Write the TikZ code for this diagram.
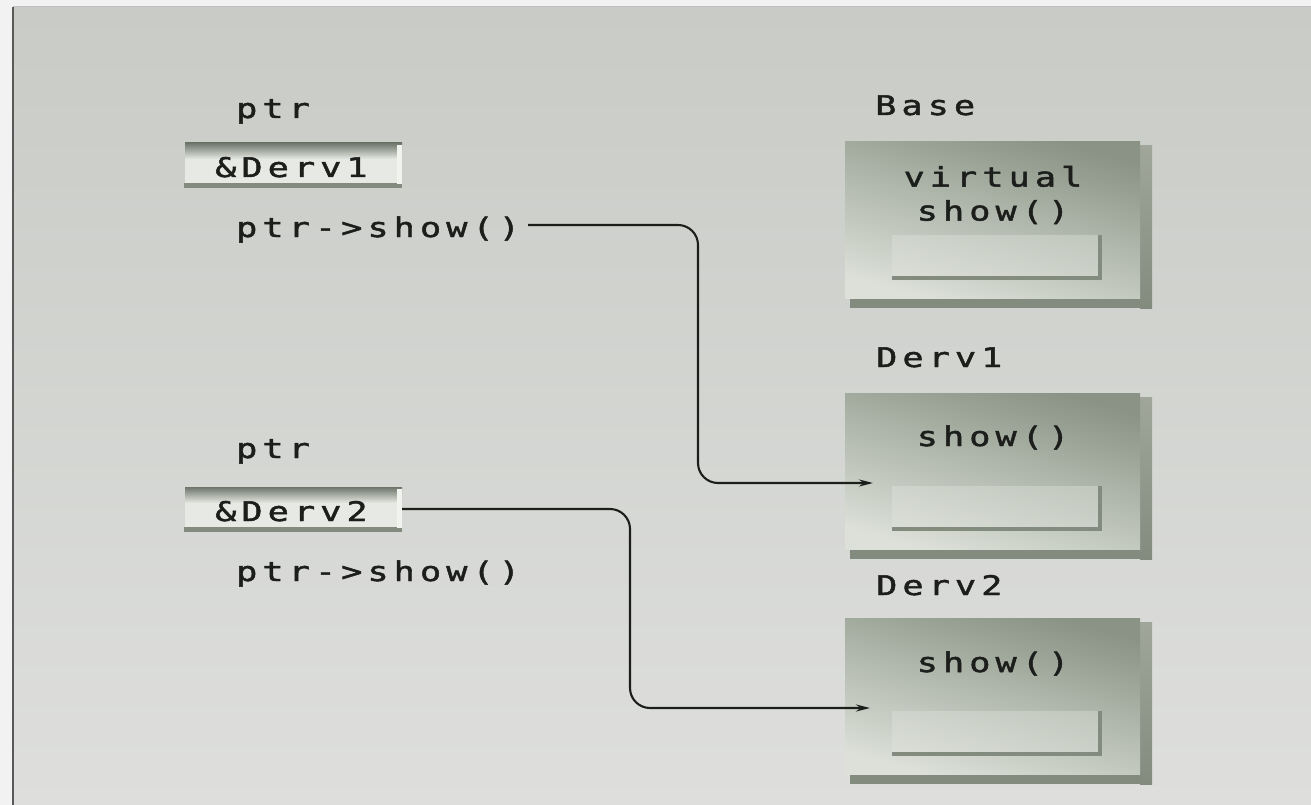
\documentclass[tikz,border=0pt]{standalone}
\usepackage{fontspec}
\usetikzlibrary{arrows.meta}
\newfontfamily\codefont[FakeStretch=1.3,LetterSpace=19,FakeBold=1.8]{DejaVu Sans Mono}

\definecolor{paper}{HTML}{F1F2F1}
\definecolor{bgtop}{HTML}{C8CBC6}
\definecolor{bgbot}{HTML}{DEDFDD}
\definecolor{ink}{HTML}{1C1E1C}
\definecolor{facedark}{HTML}{8A9385}
\definecolor{facelight}{HTML}{DCE0D8}
\definecolor{edgedark}{HTML}{838B7F}
\definecolor{sidegray}{HTML}{A0A79A}
\definecolor{panel}{HTML}{E1E4DD}

\tikzset{
  code/.style={font=\codefont\fontsize{27}{34}\selectfont, text=ink, inner sep=0pt},
  label/.style={code, anchor=base west},
  wire/.style={draw=ink, line width=2.1pt, rounded corners=20pt,
               -{Stealth[length=14pt,width=7pt]}},
}

% a class box: raised face with a darker side strip and an inner panel
\newcommand{\classbox}[3]{% name, top-left x, top y
  \begin{scope}[shift={(#2,#3)}]
    \fill[edgedark] (5,10) rectangle (307,166);
    \shade[top color=sidegray, bottom color=edgedark] (295,4) rectangle (307,166);
    \shade[top color=facedark, bottom color=facelight, shading angle=-15]
      (0,0) rectangle (295,156);
    \fill[panel, opacity=0.4] (47,93) rectangle (253,134);
    \fill[edgedark] (47,134) rectangle (257,138);
    \fill[edgedark] (253,93) rectangle (257,138);
    \coordinate (#1) at (0,0);
  \end{scope}
}

\begin{document}
\begin{tikzpicture}[x=1pt,y=-1pt]
  \useasboundingbox (0,0) rectangle (1311,805);
  % page and tinted frame
  \fill[paper] (0,0) rectangle (1311,805);
  \shade[top color=bgtop, bottom color=bgbot] (13,7) rectangle (1311,805);
  \draw[black!65, line width=2pt] (13,805) -- (13,7);
  \draw[black!25, line width=1pt] (13,7) -- (1311,7);

  % pointer cells
  \foreach \y/\nm in {143/cellA, 487/cellB}{
    \fill[facelight!70!white] (185,\y) rectangle (402,\y+44);
    \shade[top color=facedark!80!black, bottom color=facelight!70!white]
      (185,\y) rectangle (402,\y+16);
    \fill[edgedark] (184,\y+40) rectangle (402,\y+45);
    \fill[white!60!facelight] (397,\y+2) rectangle (402,\y+41);
    \coordinate (\nm) at (402,\y+22);
  }

  % class boxes
  \classbox{baseTL}{845}{142}
  \classbox{dervATL}{845}{393}
  \classbox{dervBTL}{845}{618}

  % labels and texts
  \node[label] (ptrA) at (236,118) {ptr};
  \node[label] (addrA) at (215,177) {\&Derv1};
  \node[label] (callA) at (236,237) {ptr->show()};

  \node[label] (ptrB) at (236,458) {ptr};
  \node[label] (addrB) at (215,521) {\&Derv2};
  \node[label] (callB) at (236,581) {ptr->show()};

  \node[label] (baseName) at (875,115) {Base};
  \node[code, align=center] (baseFn) at (993,195) {virtual\\show()};
  \node[label] (dervAName) at (876,367) {Derv1};
  \node[code, anchor=base] (dervAFn) at (993,446) {show()};
  \node[label] (dervBName) at (876,595) {Derv2};
  \node[code, anchor=base] (dervBFn) at (993,672) {show()};

  % connectors
  \coordinate (tipA) at (873,483);
  \coordinate (tipB) at (870,708);
  \path[wire] ([xshift=8pt,yshift=12pt]callA.base east) -| (698,483) -- (tipA);
  \path[wire] (cellB) -| (630,708) -- (tipB);
\end{tikzpicture}
\end{document}
